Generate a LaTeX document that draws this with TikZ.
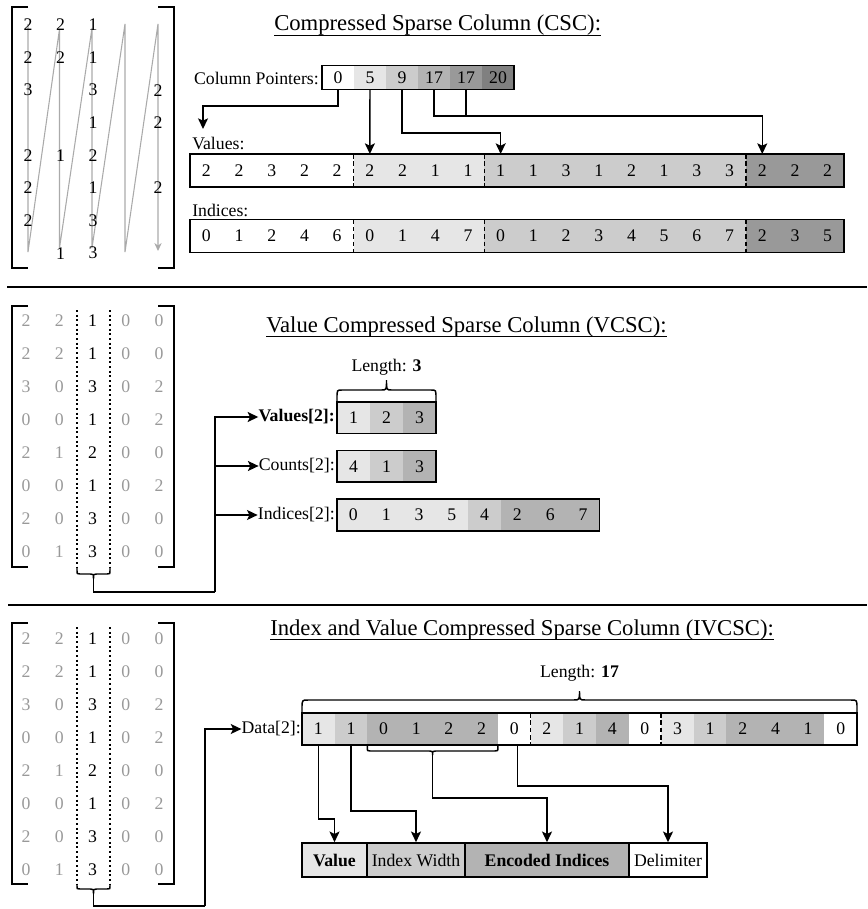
\documentclass[tikz,border=0pt]{standalone}
\usepackage{fontspec}
\setmainfont{Liberation Serif}
\usetikzlibrary{arrows.meta,calc}
\definecolor{ga}{HTML}{E6E6E6}
\definecolor{gb}{HTML}{CCCCCC}
\definecolor{gc}{HTML}{B3B3B3}
\definecolor{gd}{HTML}{999999}
\definecolor{ge}{HTML}{808080}
\definecolor{zig}{HTML}{AAAAAA}
\definecolor{dim}{HTML}{999999}
\newcommand\bodyfont{\fontsize{13.3}{16}\selectfont}
\newcommand\titlefont{\fontsize{17}{20}\selectfont}
\newcommand\myul[1]{\setbox0\hbox{#1}\rlap{\vrule height -2.9pt depth 3.8pt width \wd0}\box0}
\tikzset{
 cell/.style={inner sep=0pt, outer sep=0pt, font=\bodyfont, text=black},
 frame/.style={line width=1.2pt},
 sep/.style={line width=1pt, dash pattern=on 3.5pt off 2pt},
 conn/.style={line width=1.1pt, -{Stealth[length=8pt,width=7.5pt,inset=1.8pt]}},
 plain/.style={line width=1.1pt},
 lab/.style={font=\bodyfont, inner sep=0pt},
 boldlab/.style={font=\bodyfont\bfseries, inner sep=0pt},
 titl/.style={font=\titlefont, inner sep=0pt},
 bkt/.style={line width=1.6pt},
 ent/.style={font=\bodyfont, inner sep=0pt},
 zigline/.style={draw=zig, line width=0.8pt, -{Stealth[length=6pt,width=5.5pt]}},
 dots/.style={line width=1.5pt, dash pattern=on 1.5pt off 2pt},
 bracest/.style={line width=1.1pt},
 rule/.style={line width=1.7pt},
 legbox/.style={draw, line width=1.2pt, inner sep=0pt, minimum height=25.5pt, font=\bodyfont},
}
\newcommand\cellrow[6]{%
 \foreach \vv/\cl [count=\i] in {#6} {%
   \node[cell, fill=\cl, minimum width=#4*0.75pt, minimum height=#5*0.75pt] (#1\i) at ({#2+(\i-0.5)*#4}, {#3+#5/2}) {\vv};
 }%
}
\newcommand\mybrace[6]{%
 \pgfmathsetmacro\bxm{(#1+#2)/2}%
 \pgfmathsetmacro\bya{#3+(#4)}%
 \pgfmathsetmacro\byt{#3+(#5)}%
 \pgfmathsetmacro\byc{#3+0.35*(#4)}%
 \pgfmathsetmacro\bxa{#1+#6}%
 \pgfmathsetmacro\bxb{\bxm-#6}%
 \pgfmathsetmacro\bxc{\bxm+#6}%
 \pgfmathsetmacro\bxd{#2-#6}%
 \draw[bracest] (#1,#3) -- (#1,\byc) .. controls (#1,\bya) .. (\bxa,\bya) -- (\bxb,\bya) .. controls (\bxm,\bya) .. (\bxm,\byt) .. controls (\bxm,\bya) .. (\bxc,\bya) -- (\bxd,\bya) .. controls (#2,\bya) .. (#2,\byc) -- (#2,#3);
}
\newcommand\mbrackets[2]{%
 \draw[bkt] (28,#1) -- (12,#1) -- (12,#2) -- (28,#2);
 \draw[bkt] (158,#1) -- (174,#1) -- (174,#2) -- (158,#2);
}
\newcommand\densematrix[3]{% prefix, top, first row y
 \mbrackets{#2}{\the\numexpr#2+261\relax}
 \foreach \row [count=\r] in {{2,2,1,0,0},{2,2,1,0,0},{3,0,3,0,2},{0,0,1,0,2},{2,1,2,0,0},{0,0,1,0,2},{2,0,3,0,0},{0,1,3,0,0}} {%
  \foreach \vv [count=\k] in \row {%
   \ifnum\k=3 \def\mc{black}\else\def\mc{dim}\fi
   \node[ent, text=\mc] (#1\r\k) at ({26+(\k-1)*33.25}, {#3+(\r-1)*33}) {\vv};
  }%
 }%
 \draw[dots] (77,#2+4) -- (77,#2+261);
 \draw[dots] (110,#2+4) -- (110,#2+261);
}
\begin{document}
\begin{tikzpicture}[x=0.75pt,y=-0.75pt]
\useasboundingbox (0,0) rectangle (867,909);

% ================= CSC =================
\node[titl, anchor=base west] (t1) at (274,31) {\myul{Compressed Sparse Column (CSC):}};
\draw[zigline] (28,24) -- (28,252) -- (59.5,29) -- (59.5,248) -- (92,28) -- (92,248) -- (125,24) -- (125,252) -- (158,24) -- (158,251);
\foreach \cc/\rr/\vv in {1/1/2,2/1/2,3/1/1,1/2/2,2/2/2,3/2/1,1/3/3,3/3/3,5/3/2,3/4/1,5/4/2,1/5/2,2/5/1,3/5/2,1/6/2,3/6/1,5/6/2,1/7/2,3/7/3,2/8/1,3/8/3}
 \node[ent] (s\cc\rr) at ({28+(\cc-1)*32.5}, {25+(\rr-1)*32.6}) {\vv};
\mbrackets{7}{268}

\node[lab, anchor=east] (cpl) at (319,78) {Column Pointers:};
\cellrow{cp}{322}{65.5}{32}{24}{0/white,5/ga,9/gb,17/gc,17/gd,20/ge}
\draw[frame] (cp1.north west) rectangle (cp6.south east);

\node[lab, anchor=west] (vl) at (192,143) {Values:};
\cellrow{v}{190}{154}{32.7}{33}{2/white,2/white,3/white,2/white,2/white,2/ga,2/ga,1/ga,1/ga,1/gb,1/gb,3/gb,1/gb,2/gb,1/gb,3/gb,3/gb,2/gd,2/gd,2/gd}
\draw[frame] (v1.north west) rectangle (v20.south east);
\foreach \k in {5,9,17} \draw[sep] (v\k.north east) -- (v\k.south east);

\node[lab, anchor=west] (il) at (192,210) {Indices:};
\cellrow{ix}{190}{219.5}{32.7}{33}{0/white,1/white,2/white,4/white,6/white,0/ga,1/ga,4/ga,7/ga,0/gb,1/gb,2/gb,3/gb,4/gb,5/gb,6/gb,7/gb,2/gd,3/gd,5/gd}
\draw[frame] (ix1.north west) rectangle (ix20.south east);
\foreach \k in {5,9,17} \draw[sep] (ix\k.north east) -- (ix\k.south east);

\coordinate (vt) at (203,129);
\draw[conn] (cp1.south) -- ++(0,16.5) -| (vt);
\draw[conn] (cp2.south) -- (v6.north);
\draw[conn] (cp3.south) -- ++(0,43.5) -| (v10.north);
\draw[conn] (cp4.south) -- ++(0,26.5) -| (v18.north);
\draw[plain] (cp5.south) -- ++(0,26.5);

\draw[rule] (7,287) -- (867,287);
\draw[rule] (8,605) -- (867,605);

% ================= VCSC =================
\node[titl, anchor=base west] (t2) at (266,332) {\myul{Value Compressed Sparse Column (VCSC):}};
\densematrix{a}{306}{321}
\mybrace{77}{110}{568}{6}{11}{3}
\coordinate (vb) at (93.5,579);
\coordinate (vj) at (215,592);

\node[boldlab, anchor=east] (vl2) at (335,417) {Values[2]:};
\node[lab, anchor=east] (cl2) at (335,466) {Counts[2]:};
\node[lab, anchor=east] (il2) at (335,515) {Indices[2]:};
\draw[plain] (vb) |- (vj);
\draw[conn] (vj) |- (vl2.west);
\draw[conn] (vj) |- (cl2.west);
\draw[conn] (vj) |- (il2.west);

\cellrow{vv}{337}{402}{33}{31.5}{1/ga,2/gb,3/gc}
\draw[frame] (vv1.north west) rectangle (vv3.south east);
\cellrow{cv}{337}{450.5}{33}{31.5}{4/ga,1/gb,3/gc}
\draw[frame] (cv1.north west) rectangle (cv3.south east);
\cellrow{iv}{337}{499}{32.8}{32}{0/ga,1/ga,3/ga,5/ga,4/gb,2/gc,6/gc,7/gc}
\draw[frame] (iv1.north west) rectangle (iv8.south east);

\mybrace{337}{436}{402}{-12}{-22}{5}
\node[lab, anchor=base] (len1) at (386.5,371) {Length: \textbf{3}};

% ================= IVCSC =================
\node[titl, anchor=base west] (t3) at (270,635) {\myul{Index and Value Compressed Sparse Column (IVCSC):}};
\densematrix{b}{623}{639}
\mybrace{77}{110}{884}{5}{10}{3}
\coordinate (ib) at (93.5,894);
\coordinate (ij) at (205,906);
\node[lab, anchor=east] (dl) at (301,729) {Data[2]:};
\draw[plain] (ib) |- (ij);
\draw[conn] (ij) |- (dl.west);

\cellrow{d}{302}{713}{32.65}{32}{1/ga,1/gb,0/gc,1/gc,2/gc,2/gc,0/white,2/ga,1/gb,4/gc,0/white,3/ga,1/gb,2/gc,4/gc,1/gc,0/white}
\draw[frame] (d1.north west) rectangle (d17.south east);
\foreach \k in {7,11} \draw[sep] (d\k.north east) -- (d\k.south east);

\mybrace{302}{857}{713}{-13}{-22}{6}
\node[lab, anchor=base] (len2) at (579.5,677) {Length: \textbf{17}};
\mybrace{367.3}{497.9}{745}{6}{10}{3}
\coordinate (eb) at (432.6,755);

\node[legbox, fill=ga, minimum width=48.75pt, font=\bodyfont\bfseries] (g1) at (334.5,860) {Value};
\node[legbox, fill=gb, minimum width=73.5pt] (g2) at (416,860) {Index Width};
\node[legbox, fill=gc, minimum width=123pt, font=\bodyfont\bfseries] (g3) at (547,860) {Encoded Indices};
\node[legbox, fill=white, minimum width=58.5pt] (g4) at (668,860) {Delimiter};

\draw[conn] (d1.south) -- ++(0,74) -| (g1.north);
\draw[conn] (d2.south) -- ++(0,66) -| (g2.north);
\draw[conn] (eb) -- ++(0,43) -| (g3.north);
\draw[conn] ($(d7.south)+(3,0)$) -- ++(0,41) -| (g4.north);
\end{tikzpicture}
\end{document}
